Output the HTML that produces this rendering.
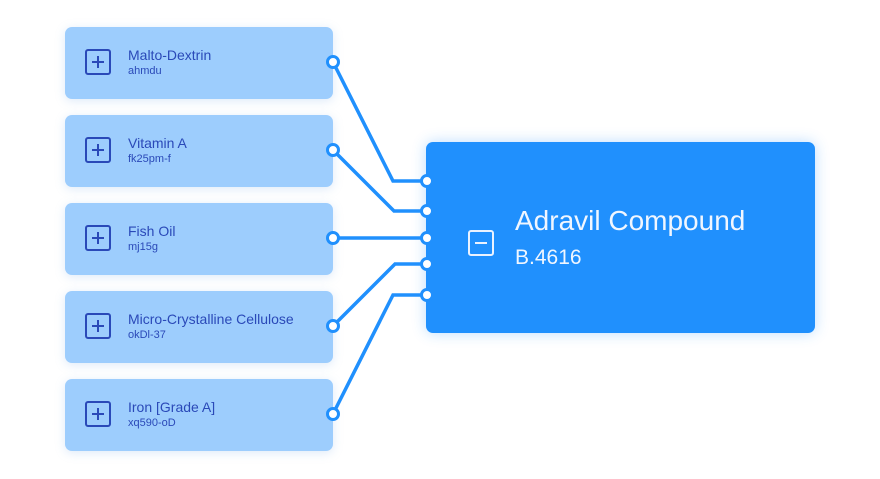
<!DOCTYPE html>
<html><head><style>
body{margin:0;width:880px;height:479px;background:#fff;position:relative;overflow:hidden;font-family:"Liberation Sans",sans-serif}
.c{position:absolute;left:65px;width:268px;height:72px;background:#9dcdfd;border-radius:7px;box-shadow:0 2px 10px rgba(120,170,230,.25)}
.c .i{position:absolute;left:20px;top:22px;width:22px;height:22px;border:2px solid #2a49b8;border-radius:3px}
.c .i:before{content:"";position:absolute;left:5px;top:10px;width:12px;height:2px;background:#2a49b8}
.c .i:after{content:"";position:absolute;left:10px;top:5px;width:2px;height:12px;background:#2a49b8}
.c .t{position:absolute;left:63px;top:20px;font-size:14px;color:#2a49b8}
.c .s{position:absolute;left:63px;top:38px;font-size:11px;color:#2a49b8}
.m{position:absolute;left:426px;top:142px;width:389px;height:191px;background:#2090fd;border-radius:7px;box-shadow:0 0 14px rgba(32,144,253,.3)}
</style></head><body>
<div class="c" style="top:27px"><div class="i"></div><div class="t">Malto-Dextrin</div><div class="s">ahmdu</div></div>
<div class="c" style="top:115px"><div class="i"></div><div class="t">Vitamin A</div><div class="s">fk25pm-f</div></div>
<div class="c" style="top:203px"><div class="i"></div><div class="t">Fish Oil</div><div class="s">mj15g</div></div>
<div class="c" style="top:291px"><div class="i"></div><div class="t">Micro-Crystalline Cellulose</div><div class="s">okDl-37</div></div>
<div class="c" style="top:379px"><div class="i"></div><div class="t">Iron [Grade A]</div><div class="s">xq590-oD</div></div>
<div class="m">
<div style="position:absolute;left:42px;top:88px;width:22px;height:22px;border:2px solid #eaf2ff;border-radius:3px"><div style="position:absolute;left:5px;top:10px;width:12px;height:2px;background:#eaf2ff"></div></div>
<div style="position:absolute;left:89px;top:63px;font-size:28px;color:#f0f6ff">Adravil Compound</div>
<div style="position:absolute;left:89px;top:104px;font-size:21px;color:#f0f6ff">B.4616</div>
</div>
<svg width="880" height="479" style="position:absolute;left:0;top:0">
<g fill="none" stroke="#2090fd" stroke-width="3.5">
<polyline points="333,62 393,181 427,181"/>
<polyline points="333,150 394,211 427,211"/>
<polyline points="333,238 427,238"/>
<polyline points="333,326 395,264 427,264"/>
<polyline points="333,414 393,295 427,295"/>
</g>
<g fill="#fff" stroke="#2090fd" stroke-width="3">
<circle cx="333" cy="62" r="5.5"/><circle cx="333" cy="150" r="5.5"/><circle cx="333" cy="238" r="5.5"/><circle cx="333" cy="326" r="5.5"/><circle cx="333" cy="414" r="5.5"/>
<circle cx="427" cy="181" r="5.5"/><circle cx="427" cy="211" r="5.5"/><circle cx="427" cy="238" r="5.5"/><circle cx="427" cy="264" r="5.5"/><circle cx="427" cy="295" r="5.5"/>
</g>
</svg>
</body></html>
